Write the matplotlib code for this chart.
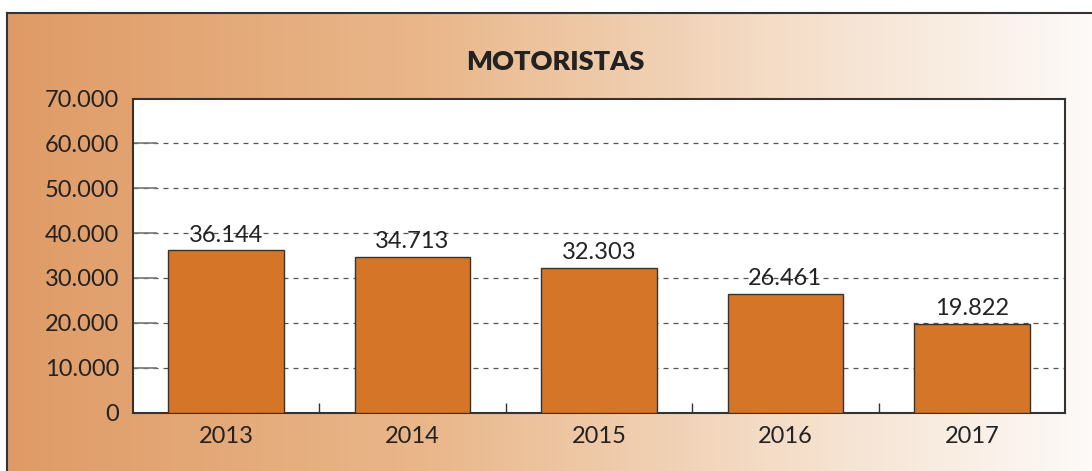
import matplotlib.pyplot as plt
import numpy as np
from matplotlib.colors import LinearSegmentedColormap

# data
years = ["2013", "2014", "2015", "2016", "2017"]
values = [36144, 34713, 32303, 26461, 19822]
labels = ["36.144", "34.713", "32.303", "26.461", "19.822"]
yticks = [0, 10000, 20000, 30000, 40000, 50000, 60000, 70000]
ytick_labels = ["0", "10.000", "20.000", "30.000", "40.000", "50.000", "60.000", "70.000"]

plt.rcParams['font.family'] = ['Lato', 'DejaVu Sans']

fig = plt.figure(figsize=(10.92, 4.71), dpi=100)
fig.patch.set_facecolor("white")

# gradient background panel
bg = fig.add_axes([7 / 1092, 0, 1 - 7 / 1092, (471 - 13) / 471])
cmap = LinearSegmentedColormap.from_list("bg", [
    (0.0, "#df9b66"), (0.4, "#eab88c"), (0.7, "#f4dcc6"), (1.0, "#fdfaf8")])
bg.imshow(np.linspace(0, 1, 256)[None, :], aspect="auto", cmap=cmap,
          extent=[0, 1, 0, 1])
bg.set_xlim(0, 1)
bg.set_ylim(0, 1)
bg.set_xticks([])
bg.set_yticks([])
for side in ["right", "bottom"]:
    bg.spines[side].set_visible(False)
for side in ["left", "top"]:
    bg.spines[side].set_color("#333333")
    bg.spines[side].set_linewidth(1.5)

ax = fig.add_axes([133 / 1092, (471 - 412.5) / 471, (1065 - 133) / 1092, (412.5 - 98.5) / 471])
ax.set_facecolor("white")
x = np.arange(len(years))
ax.bar(x, values, width=0.62, color="#d47528", edgecolor="#333333", linewidth=1, zorder=3)
for xi, v, lab in zip(x, values, labels):
    ax.text(xi, v + 1000, lab, ha="center", va="bottom", fontsize=17, color="#222222", zorder=4)

ax.set_xlim(-0.5, len(years) - 0.5)
ax.set_ylim(0, 70000)
ax.set_yticks(yticks)
ax.set_yticklabels(ytick_labels, fontsize=17, color="#222222")
ax.set_xticks(x)
ax.set_xticklabels(years, fontsize=17, color="#222222")
ax.tick_params(axis="x", length=0, pad=10)
ax.tick_params(axis="y", direction="in", length=17, color="#777777", width=1.2, pad=10)
ax.set_xticks(np.arange(0.5, len(years) - 0.5, 1), minor=True)
ax.tick_params(axis="x", which="minor", direction="in", length=7, color="#333333", width=1)
for yv in yticks[1:-1]:
    ax.axhline(yv, color="#555555", linestyle=(0, (4, 4)), linewidth=0.9, zorder=1)
for s in ax.spines.values():
    s.set_color("#333333")
    s.set_linewidth(1.5)

fig.text(555 / 1092, 1 - 62 / 471, "MOTORISTAS", ha="center", va="center",
         fontsize=19.5, fontweight="heavy", color="#222222")

fig.savefig("out.png", dpi=100)
